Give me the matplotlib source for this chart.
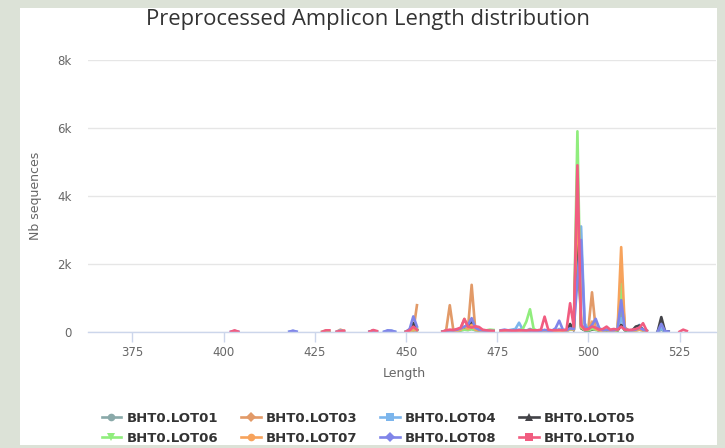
import numpy as np
import pandas as pd
import matplotlib.pyplot as plt
from matplotlib.patches import Rectangle

# lengths where the series have points (gaps between blocks are not drawn)
length = [402, 403, 404,
          418, 419, 420,
          427, 428, 429,
          431, 432, 433,
          440, 441, 442,
          444, 445, 446, 447,
          450, 451, 452, 453,
          460, 461, 462, 463, 464, 465, 466, 467, 468, 469, 470, 471, 472, 473, 474,
          476, 477, 478, 479, 480, 481, 482, 483, 484, 485, 486, 487, 488, 489,
          490, 491, 492, 493, 494, 495, 496, 497, 498, 499, 500, 501, 502, 503,
          504, 505, 506, 507, 508, 509, 510, 511, 512, 513, 514, 515, 516,
          519, 520, 521, 522,
          525, 526, 527]

N = None
lot01 = [N, N, N,  N, N, N,  N, N, N,  N, N, N,  N, N, N,  N, N, N, N,
         0, 20, 40, 30,
         0, 20, 30, 20, 30, 40, 60, 50, 80, 40, 30, 20, 20, 30, 20,
         20, 20, 30, 20, 20, 40, 30, 30, 80, 30, 20, 20, 40, 20,
         20, 20, 40, 30, 30, 100, 60, 3800, 150, 60, 40, 100, 50, 40,
         30, 40, 30, 30, 40, 600, 60, 40, 30, 40, 60, 40, 20,
         0, 60, 0, 0,
         N, N, N]
lot03 = [N, N, N,  N, N, N,  N, N, N,  0, 60, 20,  N, N, N,  N, N, N, N,
         0, 0, 20, 780,
         0, 40, 780, 30, 40, 100, 380, 120, 1380, 60, 40, 30, 20, 20, 20,
         20, 20, 20, 20, 20, 30, 30, 20, 40, 20, 20, 20, 50, 20,
         20, 20, 30, 20, 20, 80, 60, 4200, 200, 80, 100, 1160, 100, 40,
         30, 60, 30, 40, 80, 1600, 120, 40, 30, 40, 80, 60, 20,
         N, N, N, N,
         N, N, N]
lot04 = [N, N, N,  0, 20, 0,  N, N, N,  0, 40, 0,  N, N, N,  0, 30, 30, 0,
         0, 30, 100, 40,
         0, 20, 30, 20, 40, 60, 100, 150, 250, 60, 40, 20, 20, 20, 20,
         20, 30, 40, 60, 80, 265, 60, 30, 50, 30, 20, 20, 40, 20,
         20, 20, 80, 30, 30, 80, 60, 2200, 3100, 250, 60, 100, 150, 60,
         30, 40, 30, 30, 60, 400, 80, 40, 40, 80, 200, 60, 20,
         0, 100, 0, 0,
         N, N, N]
lot05 = [N, N, N,  N, N, N,  N, N, N,  N, N, N,  0, 30, 0,  N, N, N, N,
         0, 60, 250, 60,
         0, 10, 20, 20, 30, 50, 80, 120, 300, 80, 40, 20, 10, 10, 10,
         10, 10, 10, 10, 10, 20, 10, 10, 20, 10, 10, 10, 20, 10,
         10, 10, 20, 10, 20, 227, 40, 3500, 100, 40, 30, 60, 80, 30,
         20, 30, 20, 20, 30, 200, 40, 20, 30, 150, 180, 40, 10,
         0, 430, 20, 0,
         N, N, N]
lot06 = [N, N, N,  N, N, N,  0, 30, 0,  N, N, N,  N, N, N,  N, N, N, N,
         0, 20, 60, 100,
         0, 20, 20, 20, 30, 40, 60, 50, 80, 50, 40, 30, 40, 60, 50,
         30, 30, 30, 30, 30, 40, 80, 300, 660, 80, 30, 30, 40, 30,
         30, 30, 40, 30, 30, 60, 60, 5900, 120, 50, 40, 80, 60, 40,
         30, 40, 30, 30, 40, 1400, 50, 30, 30, 40, 60, 40, 20,
         N, N, N, N,
         N, N, N]
lot07 = [N, N, N,  N, N, N,  N, N, N,  N, N, N,  N, N, N,  N, N, N, N,
         0, 20, 80, 40,
         0, 20, 30, 20, 30, 60, 150, 80, 200, 60, 40, 30, 20, 20, 20,
         20, 20, 20, 20, 20, 30, 30, 20, 40, 20, 20, 20, 40, 20,
         20, 20, 30, 20, 20, 80, 60, 4000, 150, 60, 60, 300, 80, 40,
         30, 50, 30, 30, 60, 2490, 100, 40, 30, 40, 60, 40, 20,
         N, N, N, N,
         N, N, N]
lot08 = [0, 20, 0,  0, 30, 0,  N, N, N,  N, N, N,  0, 30, 0,  0, 40, 30, 0,
         0, 80, 450, 150,
         0, 30, 40, 40, 60, 100, 150, 200, 400, 120, 60, 40, 30, 20, 20,
         40, 60, 40, 30, 40, 60, 40, 30, 40, 30, 30, 30, 50, 30,
         30, 100, 325, 60, 40, 100, 80, 1500, 2700, 150, 80, 200, 380, 100,
         40, 60, 40, 40, 80, 930, 80, 40, 40, 60, 120, 60, 30,
         0, 230, 20, 0,
         N, N, N]
lot10 = [0, 40, 0,  N, N, N,  0, 40, 40,  0, 20, 30,  0, 50, 20,  N, N, N, N,
         0, 40, 150, 60,
         0, 40, 60, 50, 80, 120, 370, 150, 120, 160, 140, 60, 40, 30, 20,
         30, 40, 40, 30, 30, 40, 40, 30, 50, 40, 40, 60, 443, 60,
         40, 40, 50, 40, 60, 838, 150, 4900, 200, 60, 80, 150, 120, 60,
         80, 150, 60, 80, 60, 150, 60, 50, 60, 80, 120, 250, 30,
         N, N, N, N,
         0, 60, 20]

names = ["BHT0.LOT01", "BHT0.LOT03", "BHT0.LOT04", "BHT0.LOT05",
         "BHT0.LOT06", "BHT0.LOT07", "BHT0.LOT08", "BHT0.LOT10"]
series = [lot01, lot03, lot04, lot05, lot06, lot07, lot08, lot10]
colors = ["#8aa9a9", "#e29a68", "#7cb5ec", "#434348",
          "#90ed7d", "#f7a35c", "#8085e9", "#f15c80"]
markers = ["o", "D", "s", "^", "v", "o", "D", "s"]

x_ticks = [375, 400, 425, 450, 475, 500, 525]
y_ticks = [0, 2000, 4000, 6000, 8000]
y_ticklabels = ["0", "2k", "4k", "6k", "8k"]

fig = plt.figure(figsize=(7.25, 4.48), dpi=100, facecolor="#dce2d7")
# white card behind the chart
fig.patches.append(Rectangle((20 / 725, 1 - 445 / 448), 697 / 725, 437 / 448,
                             transform=fig.transFigure, facecolor="white",
                             edgecolor="none", zorder=-10))

ax = fig.add_axes([88 / 725, 1 - 331.7 / 448, 628 / 725, 271.7 / 448])
ax.set_facecolor("white")

grid = range(400, 528)
handles = []
for name, vals, c, m in zip(names, series, colors, markers):
    s = pd.Series([np.nan if v is None else v for v in vals], index=length)
    s = s.reindex(grid)
    ax.plot(s.index, s.values, color=c, lw=1.9, solid_joinstyle="round")
    h, = ax.plot([], [], color=c, lw=1.9, marker=m, markersize=5.5,
                 markeredgewidth=0)
    handles.append(h)

ax.set_xlim(362.8, 535)
ax.set_ylim(0, 8000)
ax.set_xticks(x_ticks)
ax.set_yticks(y_ticks)
ax.set_yticklabels(y_ticklabels)
ax.grid(axis="y", color="#e6e6e6", lw=1)
ax.set_axisbelow(True)
for sp in ["top", "right", "left"]:
    ax.spines[sp].set_visible(False)
ax.spines["bottom"].set_color("#ccd6eb")
ax.spines["bottom"].set_linewidth(1)
ax.tick_params(axis="x", colors="#666666", length=7, width=1, pad=3,
               labelsize=8.5)
ax.tick_params(axis="x", which="both", color="#ccd6eb")
ax.tick_params(axis="y", colors="#666666", length=0, pad=12, labelsize=8.5)

fig.text(35 / 725, 1 - 196 / 448, "Nb sequences", rotation=90,
         ha="center", va="center", color="#666666", fontsize=9)
fig.text(404 / 725, 1 - 373 / 448, "Length", ha="center", va="center",
         color="#666666", fontsize=9)
fig.text(368 / 725, 1 - 19 / 448, "Preprocessed Amplicon Length distribution",
         ha="center", va="center", color="#333333", fontsize=15.8,
         family="Open Sans")

order = [0, 4, 1, 5, 2, 6, 3, 7]
fig.legend([handles[i] for i in order], [names[i] for i in order],
           ncol=4, frameon=False, loc="upper left",
           bbox_to_anchor=(95 / 725, 1 - 405 / 448),
           borderpad=0, handlelength=1.5, handletextpad=0.4,
           columnspacing=1.7, labelspacing=0.55,
           prop={"weight": "bold", "size": 9.5}, labelcolor="#333333")

plt.savefig("out.png", dpi=100, facecolor=fig.get_facecolor())
